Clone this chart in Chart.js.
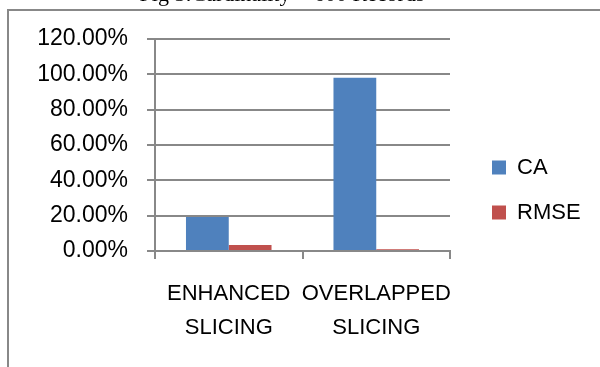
<!DOCTYPE html>
<html>

<head>
    <script src="https://cdn.jsdelivr.net/npm/chart.js"></script>
    <style>
        html,
        body {
            margin: 0px;
            background: #fff;
        }

        .container {
            width: 600px;
            height: 367px;
        }
    </style>
</head>

<body>
    <div class="container">
        <canvas id="myChart"></canvas>
    </div>

    <script>
        const categories = [['ENHANCED', 'SLICING'], ['OVERLAPPED', 'SLICING']];
        const seriesNames = ['CA', 'RMSE'];
        const caValues = [19.3, 98.1];
        const rmseValues = [3.4, 1.0];
        const yTicks = [0, 20, 40, 60, 80, 100, 120];

        const axisColor = '#888888';
        const textFont = "'Liberation Sans', Arial, sans-serif";
        const legendWidth = 131;

        // grey frame of the figure and the cut-off caption above it
        const framePlugin = {
            id: 'frame',
            beforeLayout(chart) {
                // give the legend a fixed width so its text is not cut
                const legend = chart.legend;
                if (legend && !legend._fixedWidth) {
                    const fit = legend.fit.bind(legend);
                    legend.fit = function () {
                        fit();
                        this.width = legendWidth;
                    };
                    legend._fixedWidth = true;
                }
            },
            beforeDraw(chart) {
                const ctx = chart.ctx;
                ctx.save();
                ctx.fillStyle = '#fff';
                ctx.fillRect(0, 0, chart.width, chart.height);
                ctx.strokeStyle = axisColor;
                ctx.lineWidth = 2;
                ctx.beginPath();
                ctx.moveTo(8, chart.height + 5);
                ctx.lineTo(8, 10);
                ctx.lineTo(chart.width + 5, 10);
                ctx.stroke();
                ctx.fillStyle = '#000';
                ctx.font = "22px 'Liberation Serif', serif";
                ctx.textAlign = 'center';
                ctx.textBaseline = 'alphabetic';
                ctx.fillText('Fig 5:Cardinality = 600 Records', 282, 1);
                ctx.restore();
            }
        };

        var context = document.getElementById('myChart').getContext('2d');
        var chart = new Chart(context, {
            type: 'bar',
            data: {
                labels: categories,
                datasets: [
                    {
                        label: seriesNames[0],
                        data: caValues,
                        backgroundColor: '#4F81BD',
                        categoryPercentage: 0.58,
                        barPercentage: 1.0,
                    },
                    {
                        label: seriesNames[1],
                        data: rmseValues,
                        backgroundColor: '#C0504D',
                        categoryPercentage: 0.58,
                        barPercentage: 1.0,
                    },
                ],
            },
            options: {
                responsive: true,
                maintainAspectRatio: false,
                animation: false,
                layout: {
                    padding: { left: 8, top: 39, right: 0, bottom: 26 }
                },
                plugins: {
                    legend: {
                        position: 'right',
                        labels: {
                            boxWidth: 14,
                            boxHeight: 14,
                            padding: 23,
                            color: '#000',
                            font: { family: textFont, size: 22 }
                        }
                    },
                    tooltip: { enabled: false }
                },
                scales: {
                    x: {
                        afterFit(scale) { scale.height = 90; },
                        grid: {
                            drawOnChartArea: false,
                            drawTicks: true,
                            tickLength: 8,
                            color: axisColor,
                            lineWidth: 2,
                        },
                        border: { color: axisColor, width: 2 },
                        ticks: {
                            color: '#000',
                            padding: 18,
                            maxRotation: 0,
                            autoSkip: false,
                            font: { family: textFont, size: 22, lineHeight: 1.55 }
                        }
                    },
                    y: {
                        min: 0,
                        max: 120,
                        afterFit(scale) { scale.width = 147; },
                        afterBuildTicks(scale) {
                            scale.ticks = yTicks.map(v => ({ value: v }));
                        },
                        grid: {
                            color: axisColor,
                            lineWidth: 2,
                            tickLength: 8,
                        },
                        border: { color: axisColor, width: 2 },
                        ticks: {
                            color: '#000',
                            padding: 19,
                            font: { family: textFont, size: 23 },
                            callback: v => v.toFixed(2) + '%'
                        }
                    },
                    // empty gap between the plot and the legend
                    gap: {
                        position: 'right',
                        afterFit(scale) { scale.width = 19; },
                        grid: { display: false },
                        border: { display: false },
                        ticks: { display: false }
                    }
                }
            },
            plugins: [framePlugin]
        });
    </script>
</body>

</html>
